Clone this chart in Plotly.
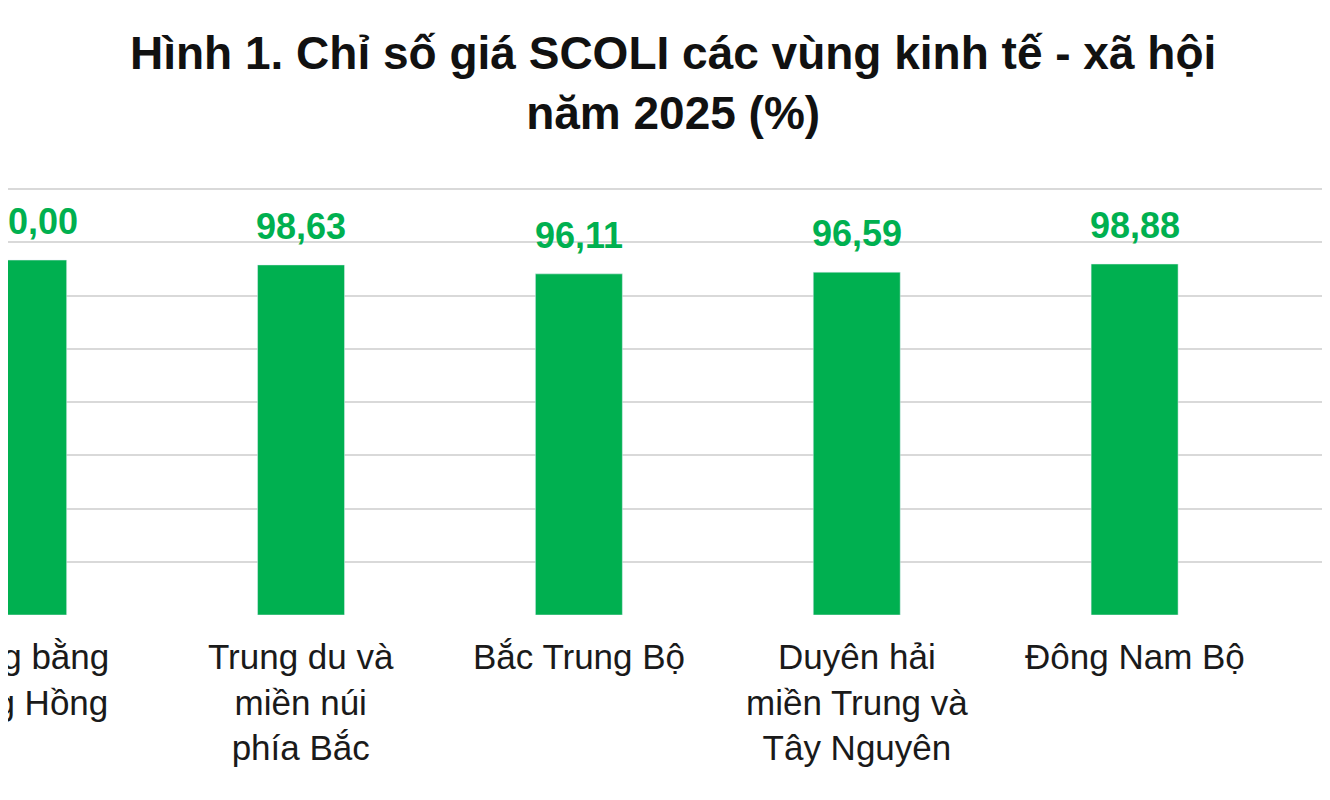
import plotly.graph_objects as go

regions = [
    "Đồng bằng<br>sông Hồng",
    "Trung du và<br>miền núi<br>phía Bắc",
    "Bắc Trung Bộ",
    "Duyên hải<br>miền Trung và<br>Tây Nguyên",
    "Đông Nam Bộ",
    "Đồng bằng<br>sông Cửu Long",
]
scoli = [100.00, 98.63, 96.11, 96.59, 98.88, None]
positions = list(range(len(regions)))

GREEN = "#00B050"
FONT = "Liberation Sans, Arial, sans-serif"

fig = go.Figure(go.Bar(x=positions, y=scoli, width=0.313, marker_color=GREEN,
                       hoverinfo="skip"))

for p, v, name in zip(positions, scoli, regions):
    if v is not None:
        fig.add_annotation(x=p, y=v, xref="x", yref="y",
                           text=f"<b>{v:.2f}</b>".replace(".", ","),
                           showarrow=False, yanchor="bottom", yshift=16,
                           font=dict(family=FONT, size=36, color=GREEN))
    fig.add_annotation(x=p, y=0, xref="x", yref="paper", text=name,
                       showarrow=False, yanchor="top", yshift=-20,
                       font=dict(family=FONT, size=35, color="#1a1a1a"))

fig.add_annotation(x=0.5, y=1.246, xref="paper", yref="paper", showarrow=False,
                   yanchor="middle",
                   text="<b>Hình 1. Chỉ số giá SCOLI các vùng kinh tế - xã hội<br>năm 2025 (%)</b>",
                   font=dict(family=FONT, size=46, color="#111"))

fig.update_layout(
    width=1330, height=800,
    paper_bgcolor="white", plot_bgcolor="white",
    margin=dict(l=0, r=0, t=180, b=193),
    showlegend=False,
)
fig.update_xaxes(range=[-0.0546, 4.732], showticklabels=False,
                 showgrid=False, zeroline=False, showline=False)
fig.update_yaxes(range=[0, 120.3], dtick=15, showticklabels=False,
                 gridcolor="#d9d9d9", gridwidth=2, zeroline=False)

fig.write_html("out.html")
